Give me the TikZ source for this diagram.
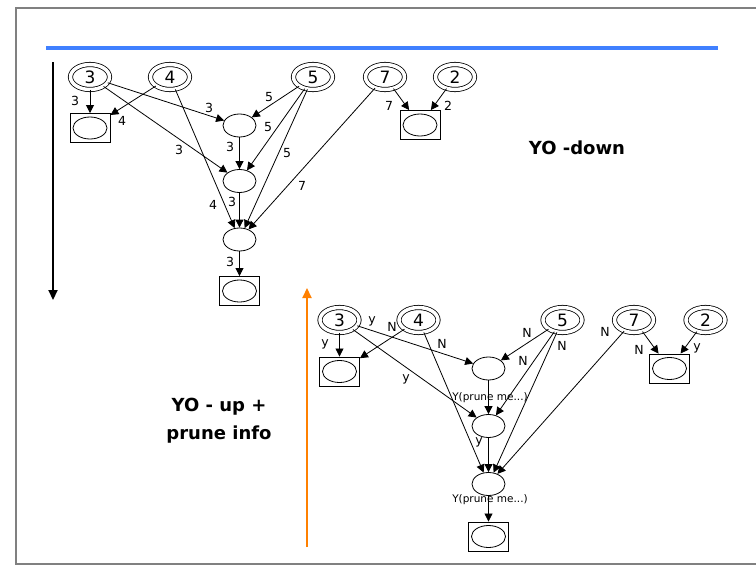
\documentclass[tikz,border=0pt]{standalone}
\usepackage{fontspec}
\setmainfont{DejaVu Sans}
\usetikzlibrary{arrows.meta,shapes.geometric}

\definecolor{rulecol}{RGB}{64,128,255}
\definecolor{upcol}{RGB}{255,128,0}

\begin{document}
\begin{tikzpicture}[
  x=1pt, y=-1pt,
  src/.style={ellipse, draw, double, double distance=3.5pt, line width=0.8pt, minimum width=39pt, minimum height=25pt, inner sep=0pt, font=\fontsize{17}{17}\selectfont},
  sink/.style={rectangle, draw, line width=0.9pt, minimum width=40pt, minimum height=29pt, inner sep=0pt,
    path picture={\draw[line width=0.8pt] (path picture bounding box.center) ellipse [x radius=17pt, y radius=11pt];}},
  op/.style={ellipse, draw, line width=0.8pt, minimum width=33pt, minimum height=23pt, inner sep=0pt},
  arr/.style={-{Triangle[length=8pt,width=8pt]}, line width=0.8pt},
  lbl/.style={font=\fontsize{12.5}{12.5}\selectfont, inner sep=0pt},
  prune/.style={font=\fontsize{10.5}{10.5}\selectfont, inner sep=0pt},
  heading/.style={font=\bfseries\fontsize{18}{28}\selectfont, align=center},
  bigarr/.style={-{Triangle[length=10pt,width=9pt]}, line width=2.2pt},
]

% page and slide frame
\fill[white] (0,0) rectangle (756,565);
\useasboundingbox (0,0) rectangle (756,565);
\draw[gray, line width=1.5pt] (756,8) -- (16,8) -- (16,564) -- (756,564);
\draw[rulecol, line width=4pt] (46,48) -- (718,48);

% ====== TOP-DOWN PASS ======
\coordinate (downstart) at (53,62);
\coordinate (downend) at (53,300);
\draw[bigarr, black] (downstart) -- (downend);
\node[heading] (downtitle) at (577,148) {YO -down};

% sources
\node[src] (d3) at (90,77) {3};
\node[src] (d4) at (170,77) {4};
\node[src] (d5) at (313,77) {5};
\node[src] (d7) at (385,77) {7};
\node[src] (d2) at (455,77) {2};

% operators and sinks
\node[sink] (dk1) at (90,128) {};
\node[sink] (dk2) at (420,125) {};
\node[op] (da) at (239.5,125.5) {};
\node[op] (db) at (239.5,181) {};
\node[op] (dc) at (239.5,239.5) {};
\node[sink] (dk3) at (239.5,291) {};

% edges
\draw[arr] (d3) -- (dk1);
\draw[arr] (d4) -- (dk1);
\draw[arr] (d3) -- (da);
\draw[arr] (d3) -- (db);
\draw[arr] (d4) -- (dc);
\draw[arr] (d5) -- (da);
\draw[arr] (d5) -- (db);
\draw[arr] (d5) -- (dc);
\draw[arr] (d7) -- (dc);
\draw[arr] (da) -- (db);
\draw[arr] (db) -- (dc);
\draw[arr] (dc) -- (dk3);
\draw[arr] (d7) -- (dk2);
\draw[arr] (d2) -- (dk2);

% edge sizes
\node[lbl] (dl3k1) at (75,101) {3};
\node[lbl] (dl4k1) at (122,121) {4};
\node[lbl] (dl3a) at (209,108) {3};
\node[lbl] (dl3b) at (179,150) {3};
\node[lbl] (dl4c) at (213,205) {4};
\node[lbl] (dl5a) at (269,97) {5};
\node[lbl] (dl5b) at (268,127) {5};
\node[lbl] (dl5c) at (287,153) {5};
\node[lbl] (dl7c) at (302,186) {7};
\node[lbl] (dlab) at (230,147) {3};
\node[lbl] (dlbc) at (232,202) {3};
\node[lbl] (dlck3) at (230,262) {3};
\node[lbl] (dl7k2) at (389,106) {7};
\node[lbl] (dl2k2) at (448,106) {2};

% ====== BOTTOM-UP PASS ======
\coordinate (upstart) at (307,547);
\coordinate (upend) at (307,288);
\draw[bigarr, upcol] (upstart) -- (upend);
\node[heading] (uptitle) at (219,421) {YO - up +\\prune info};

% sources
\node[src] (u3) at (339.5,320) {3};
\node[src] (u4) at (418.5,320) {4};
\node[src] (u5) at (562.5,320) {5};
\node[src] (u7) at (634,320) {7};
\node[src] (u2) at (705.5,320) {2};

% operators and sinks
\node[sink] (uk1) at (339.5,371.5) {};
\node[sink] (uk2) at (669.5,368.5) {};
\node[op] (ua) at (488.5,368.5) {};
\node[op] (ub) at (488.5,426) {};
\node[op] (uc) at (488.5,484) {};
\node[sink] (uk3) at (488.5,536.5) {};

% edges
\draw[arr] (u3) -- (uk1);
\draw[arr] (u4) -- (uk1);
\draw[arr] (u3) -- (ua);
\draw[arr] (u3) -- (ub);
\draw[arr] (u4) -- (uc);
\draw[arr] (u5) -- (ua);
\draw[arr] (u5) -- (ub);
\draw[arr] (u5) -- (uc);
\draw[arr] (u7) -- (uc);
\draw[arr] (ua) -- (ub);
\draw[arr] (ub) -- (uc);
\draw[arr] (uc) -- (uk3);
\draw[arr] (u7) -- (uk2);
\draw[arr] (u2) -- (uk2);

% prune flags
\node[lbl] (ul3k1) at (325,344) {y};
\node[lbl] (ul4k1) at (392,327) {N};
\node[lbl] (ul3a) at (372,321) {y};
\node[lbl] (ul3b) at (406,379) {y};
\node[lbl] (ul4c) at (442,344) {N};
\node[lbl] (ul5a) at (527,333) {N};
\node[lbl] (ul5b) at (523,361) {N};
\node[lbl] (ul5c) at (562,346) {N};
\node[lbl] (ul7c) at (605,332) {N};
\node[prune] (ulab) at (490,398) {Y(prune me...)};
\node[lbl] (ulbc) at (479,442) {y};
\node[prune] (ulck3) at (490,500) {Y(prune me...)};
\node[lbl] (ul7k2) at (639,350) {N};
\node[lbl] (ul2k2) at (697,348) {y};

\end{tikzpicture}
\end{document}
